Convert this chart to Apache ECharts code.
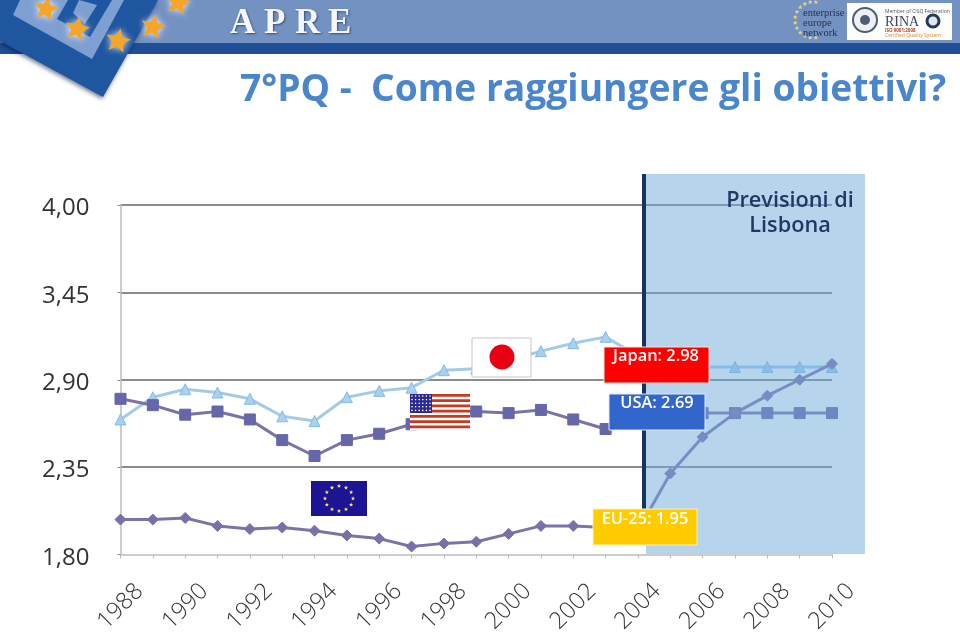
<!DOCTYPE html>
<html>
<head>
<meta charset="utf-8">
<style>html,body{margin:0;padding:0;background:#fff}#c{width:960px;height:632px}</style>
<script src="https://cdn.jsdelivr.net/npm/echarts@6/dist/echarts.min.js"></script>
</head>
<body>
<div id="c"></div>
<script>
const years = ['1988','1989','1990','1991','1992','1993','1994','1995','1996','1997','1998','1999','2000','2001','2002','2003','2004','2005','2006','2007','2008','2009','2010'];
const japan = [2.65,2.79,2.84,2.82,2.78,2.67,2.64,2.79,2.83,2.85,2.96,2.97,3.02,3.08,3.13,3.17,3.05,2.98,2.98,2.98,2.98,2.98,2.98];
const usa   = [2.78,2.74,2.68,2.70,2.65,2.52,2.42,2.52,2.56,2.62,2.69,2.70,2.69,2.71,2.65,2.59,2.64,2.69,2.69,2.69,2.69,2.69,2.69];
const eu    = [2.02,2.02,2.03,1.98,1.96,1.97,1.95,1.92,1.90,1.85,1.87,1.88,1.93,1.98,1.98,1.97,1.95,2.31,2.54,2.69,2.80,2.90,3.00];
const yTicks = [1.8,2.35,2.9,3.45,4];
const titleText = '7°PQ -  Come raggiungere gli obiettivi?';
const FONT = '"Open Sans"';

function star(cx, cy, r, rot, fill, z, glow) {
  const pts = [];
  for (let i = 0; i < 10; i++) {
    const rad = i % 2 ? r * 0.45 : r;
    const a = -Math.PI / 2 + rot + i * Math.PI / 5;
    pts.push([cx + rad * Math.cos(a), cy + rad * Math.sin(a)]);
  }
  return {type:'polygon', z, shape:{points:pts}, style:{fill, shadowBlur:glow||0, shadowColor:'rgba(255,255,255,.9)'}};
}
function rect(x,y,w,h,fill,z,extra){return {type:'rect',z,shape:{x,y,width:w,height:h},style:Object.assign({fill},extra||{})};}
function txt(x,y,text,size,fill,z,extra){return {type:'text',z,x,y,style:Object.assign({text,fontSize:size,fill,fontFamily:FONT},extra||{})};}

const g = [];
// header
g.push(rect(0,0,960,43,'#7391c1',0));
g.push(rect(0,43,960,11,'#1f4f96',0));
['A','P','R','E'].forEach((t,i)=>g.push(txt([230,264,295,328][i],6,t,35,'#f4f6fb',1,{fontFamily:'"Liberation Serif"',fontWeight:'bold',textShadowBlur:2,textShadowColor:'#34507f',textShadowOffsetX:1,textShadowOffsetY:1})));
// logo
g.push({type:'polygon',z:1,shape:{points:[[0,0],[158,0],[103,97],[0,41]]},style:{fill:'#1f56a0',shadowBlur:4,shadowColor:'rgba(0,20,60,.55)',shadowOffsetX:-1,shadowOffsetY:2}});
g.push({type:'polygon',z:1,shape:{points:[[20,0],[124,0],[92,59],[13,15]]},style:{fill:'#7e9fd2'}});
g.push({type:'polygon',z:1,shape:{points:[[68,0],[112,0],[90,37],[57,19]]},style:{fill:'#1f56a0'}});
g.push({type:'polygon',z:1,shape:{points:[[79,0],[97,5],[85,24],[73,13]]},style:{fill:'#7e9fd2'}});
[[46,9],[77,29],[118,41],[153,27],[178,3]].forEach(p=>g.push(star(p[0],p[1],13,0.2,'#f5a52a',2,7)));
// right logos
for(let i=0;i<12;i++){
  const a=Math.PI*(0.45+i*1.1/11);
  g.push(star(813+18*Math.cos(a),20+18*Math.sin(a),2.4,0,'#e6d77a',1));
}
['enterprise','europe','network'].forEach((t,i)=>g.push(txt(803,8+i*10,t,10.5,'#26324f',2,{fontFamily:'"Liberation Serif"'})));
g.push(rect(847,3,105,37,'#fdfdfb',1));
g.push({type:'circle',z:2,shape:{cx:865,cy:20,r:12},style:{fill:'#eef0f4',stroke:'#4c5d78',lineWidth:2}});
g.push({type:'circle',z:2,shape:{cx:865,cy:20,r:5},style:{fill:'#4c5d78'}});
g.push({type:'circle',z:2,shape:{cx:933,cy:21,r:6},style:{fill:'#dfe6ee',stroke:'#26395c',lineWidth:3}});
g.push(txt(885,9,'Member of CISQ Federation',5,'#555',2));
g.push(txt(885,15,'RINA',14,'#3a4660',2,{fontFamily:'"Liberation Serif"'}));
g.push(txt(885,28,'ISO 9001:2008',4.5,'#c2452d',2,{fontWeight:'bold'}));
g.push(txt(885,33,'Certified Quality System',5,'#d48a3a',2));
// forecast band
g.push(rect(646,174,219,380,'rgba(112,170,220,0.5)',10));
g.push(rect(642,174,4,346,'#17335f',11));
g.push(txt(790,188,'Previsioni di\nLisbona',21.7,'#1f3864',12,{fontWeight:600,align:'center',lineHeight:25,verticalAlign:'top'}));
// flags
g.push(rect(472,338,59,39,'#fff',12,{stroke:'#c8c8c8',lineWidth:1}));
g.push({type:'circle',z:13,shape:{cx:502,cy:357,r:12.5},style:{fill:'#e60012'}});
g.push(rect(410,394,60,36,'#fff',12));
for(let i=0;i<7;i++) g.push(rect(410,394+i*5.25,60,2.7,'#c73a1e',13));
g.push(rect(410,394,22,19,'#2a2a8c',14));
for(let r=0;r<5;r++)for(let c=0;c<6;c++) g.push({type:'circle',z:15,shape:{cx:412+c*3.6,cy:396+r*3.6,r:.8},style:{fill:'#fff'}});
g.push(rect(311,481,56,35,'#1c1493',12));
for(let i=0;i<12;i++){
  const a=i*Math.PI/6;
  g.push(star(339+14*Math.cos(a),498.5+12.5*Math.sin(a),2.2,0,'#f5e16b',13));
}
// value boxes
g.push(rect(604,347,105,36,'#ff0000',20,{stroke:'#f5dede',lineWidth:1}));
g.push(rect(609,394,96,36,'#3366cc',20,{stroke:'#dfe8f7',lineWidth:1}));
g.push(rect(593,509,104,36,'#ffcc00',20,{stroke:'#fdf0c0',lineWidth:1}));
const boxText={fontWeight:600,align:'center',verticalAlign:'middle'};
g.push(txt(656,356,'Japan: 2.98',16.4,'#fff',21,boxText));
g.push(txt(657,403,'USA: 2.69',16.4,'#fff',21,boxText));
g.push(txt(645,519,'EU-25: 1.95',16.4,'#fff',21,boxText));

function line(name,data,symbol,size,lineColor,fill,border){
  return {name,type:'line',data,symbol,symbolSize:size,z:3,
    lineStyle:{color:lineColor,width:3},
    itemStyle:{color:fill,borderColor:border,borderWidth:1},
    animation:false};
}
const chart = echarts.init(document.getElementById('c'),null,{renderer:'canvas'});
chart.setOption({
  animation:false,
  backgroundColor:'#fff',
  title:{text:titleText,left:235,top:67,textStyle:{fontFamily:FONT,fontSize:37.2,fontWeight:'bold',color:'#4a86cc'}},
  grid:{left:120.5,right:128,top:205,bottom:77.5,outerBoundsMode:'none'},
  xAxis:{type:'category',data:years,boundaryGap:false,
    axisLine:{lineStyle:{color:'#bdbdbd',width:1.5}},
    axisTick:{show:true,length:4,interval:0,lineStyle:{color:'#bdbdbd'}},
    splitLine:{show:false},
    axisLabel:{interval:1,rotate:45,align:'center',verticalAlign:'middle',margin:52,fontFamily:FONT,fontSize:23.5,color:'#333',fontWeight:300,hideOverlap:false}},
  yAxis:{type:'value',min:1.8,max:4,interval:0.55,
    axisLine:{show:true,lineStyle:{color:'#bdbdbd',width:1.5}},
    axisTick:{show:true,length:3,lineStyle:{color:'#8c8c8c'},customValues:yTicks},
    splitLine:{show:true,showMinLine:false,lineStyle:{color:'#8c8c8c',width:2}},
    axisLabel:{margin:31,customValues:yTicks,formatter:v=>'{a|'+v.toFixed(2).replace('.',',')+'}',
      rich:{a:{fontFamily:FONT,fontSize:24,color:'#333',padding:[7,0,0,0]}}}},
  tooltip:{show:false},
  series:[
    line('Japan',japan,'triangle',11,'#a3cbe8','#a9d0ee','#86bbe6'),
    line('USA',usa,'rect',11,'#7a74a6','#6567a8','#6567a8'),
    line('EU-25',eu,'diamond',11,'#7b74a8','#7a70a8','#7a70a8')
  ],
  graphic:{elements:g}
});
</script>
</body>
</html>
